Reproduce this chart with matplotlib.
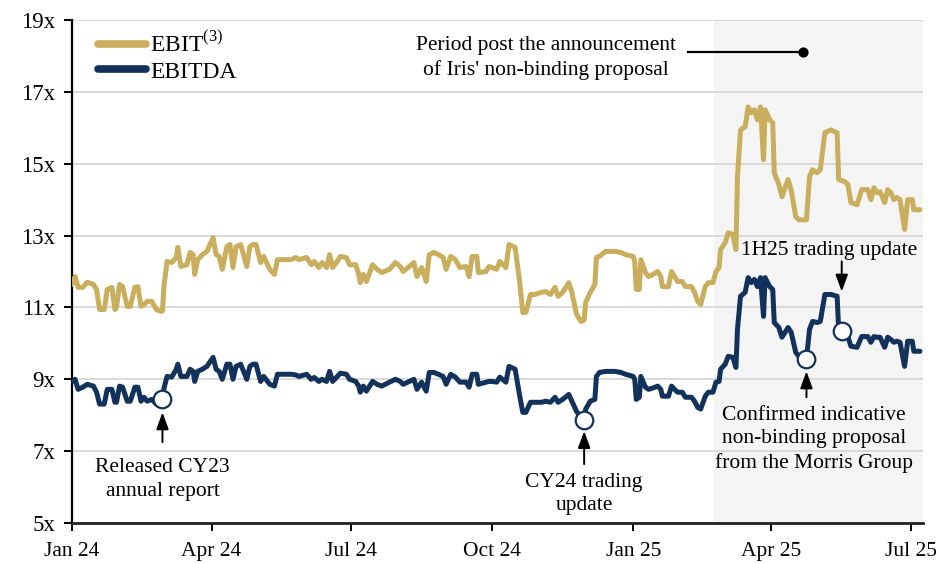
import matplotlib
matplotlib.use("Agg")
import matplotlib.pyplot as plt
import pandas as pd

plt.rcParams['font.family'] = ['Liberation Serif', 'DejaVu Serif']
plt.rcParams['mathtext.fontset'] = 'custom'
plt.rcParams['mathtext.rm'] = 'Liberation Serif'

# ---------------- data ----------------
dates = [
    "2024-01-01", "2024-01-03", "2024-01-05", "2024-01-08", "2024-01-11", "2024-01-15", "2024-01-17", "2024-01-19",
    "2024-01-22", "2024-01-24", "2024-01-27", "2024-01-29", "2024-01-30", "2024-02-01", "2024-02-03", "2024-02-06",
    "2024-02-08", "2024-02-11", "2024-02-13", "2024-02-15", "2024-02-17", "2024-02-19", "2024-02-22", "2024-02-25",
    "2024-02-28", "2024-02-29", "2024-03-01", "2024-03-03", "2024-03-06", "2024-03-09", "2024-03-10", "2024-03-12",
    "2024-03-16", "2024-03-18", "2024-03-20", "2024-03-21", "2024-03-23", "2024-03-26", "2024-03-29", "2024-04-02",
    "2024-04-04", "2024-04-06", "2024-04-08", "2024-04-11", "2024-04-13", "2024-04-15", "2024-04-17", "2024-04-20",
    "2024-04-24", "2024-04-26", "2024-04-28", "2024-04-30", "2024-05-03", "2024-05-05", "2024-05-09", "2024-05-12",
    "2024-05-14", "2024-05-17", "2024-05-23", "2024-05-26", "2024-05-28", "2024-06-02", "2024-06-05", "2024-06-07",
    "2024-06-10", "2024-06-12", "2024-06-15", "2024-06-17", "2024-06-19", "2024-06-22", "2024-06-24", "2024-06-28",
    "2024-06-30", "2024-07-04", "2024-07-06", "2024-07-07", "2024-07-09", "2024-07-11", "2024-07-15", "2024-07-18",
    "2024-07-21", "2024-07-26", "2024-07-30", "2024-08-02", "2024-08-04", "2024-08-08", "2024-08-11", "2024-08-13",
    "2024-08-16", "2024-08-19", "2024-08-21", "2024-08-24", "2024-08-27", "2024-08-30", "2024-09-01", "2024-09-04",
    "2024-09-07", "2024-09-10", "2024-09-14", "2024-09-16", "2024-09-18", "2024-09-21", "2024-09-22", "2024-09-27",
    "2024-09-29", "2024-10-01", "2024-10-04", "2024-10-06", "2024-10-10", "2024-10-12", "2024-10-16", "2024-10-19",
    "2024-10-21", "2024-10-23", "2024-10-26", "2024-10-29", "2024-11-02", "2024-11-05", "2024-11-08", "2024-11-11",
    "2024-11-13", "2024-11-16", "2024-11-20", "2024-11-22", "2024-11-25", "2024-11-28", "2024-11-30", "2024-12-01",
    "2024-12-04", "2024-12-07", "2024-12-08", "2024-12-10", "2024-12-14", "2024-12-20", "2024-12-24", "2024-12-27",
    "2025-01-01", "2025-01-02", "2025-01-03", "2025-01-05", "2025-01-06", "2025-01-09", "2025-01-11", "2025-01-14",
    "2025-01-17", "2025-01-19", "2025-01-20", "2025-01-24", "2025-01-26", "2025-01-28", "2025-01-30", "2025-02-02",
    "2025-02-04", "2025-02-08", "2025-02-10", "2025-02-12", "2025-02-14", "2025-02-17", "2025-02-19", "2025-02-22",
    "2025-02-24", "2025-02-26", "2025-02-27", "2025-03-02", "2025-03-04", "2025-03-07", "2025-03-09", "2025-03-10",
    "2025-03-12", "2025-03-15", "2025-03-17", "2025-03-19", "2025-03-21", "2025-03-23", "2025-03-25", "2025-03-27",
    "2025-03-28", "2025-03-31", "2025-04-02", "2025-04-03", "2025-04-06", "2025-04-08", "2025-04-12", "2025-04-14",
    "2025-04-17", "2025-04-19", "2025-04-24", "2025-04-26", "2025-04-28", "2025-05-01", "2025-05-03", "2025-05-06",
    "2025-05-10", "2025-05-14", "2025-05-15", "2025-05-19", "2025-05-21", "2025-05-23", "2025-05-27", "2025-05-30",
    "2025-06-03", "2025-06-05", "2025-06-07", "2025-06-09", "2025-06-11", "2025-06-14", "2025-06-16", "2025-06-18",
    "2025-06-20", "2025-06-22", "2025-06-24", "2025-06-27", "2025-06-29", "2025-07-02", "2025-07-03", "2025-07-07",
]

ebit = [
    11.64, 11.86, 11.56, 11.56, 11.70, 11.64, 11.50, 10.94,
    10.94, 11.50, 11.56, 10.94, 11.00, 11.64, 11.58, 11.03,
    11.03, 11.56, 11.58, 11.03, 11.08, 11.17, 11.17, 10.94,
    10.89, 10.90, 11.60, 12.28, 12.25, 12.39, 12.67, 12.14,
    12.19, 12.53, 12.47, 11.92, 12.33, 12.47, 12.56, 12.94,
    12.47, 12.42, 12.06, 12.69, 12.75, 12.11, 12.69, 12.75,
    12.14, 12.69, 12.75, 12.75, 12.25, 12.42, 12.06, 11.92,
    12.33, 12.33, 12.33, 12.39, 12.33, 12.39, 12.19, 12.28,
    12.11, 12.25, 12.11, 12.47, 12.11, 12.28, 12.42, 12.39,
    12.19, 12.19, 11.92, 11.69, 11.92, 11.72, 12.19, 12.06,
    11.97, 12.06, 12.25, 12.14, 12.00, 12.14, 12.25, 11.86,
    12.11, 11.72, 12.47, 12.53, 12.47, 12.39, 12.06, 12.42,
    12.33, 12.11, 12.14, 11.86, 12.42, 12.42, 11.97, 12.00,
    12.14, 12.11, 12.06, 12.28, 12.11, 12.75, 12.67, 11.69,
    10.86, 10.86, 11.36, 11.36, 11.42, 11.44, 11.36, 11.56,
    11.31, 11.42, 11.69, 11.42, 10.81, 10.61, 10.65, 11.14,
    11.42, 11.64, 12.39, 12.42, 12.56, 12.56, 12.53, 12.47,
    12.42, 12.28, 11.50, 11.50, 12.33, 11.97, 11.86, 11.92,
    12.00, 11.86, 11.58, 11.58, 12.00, 11.86, 11.72, 11.72,
    11.58, 11.58, 11.42, 11.17, 11.08, 11.58, 11.69, 11.69,
    12.00, 12.11, 12.61, 12.80, 13.08, 13.03, 12.61, 14.64,
    15.94, 16.03, 16.58, 16.42, 16.50, 16.22, 16.58, 15.11,
    16.50, 16.22, 16.14, 14.75, 14.42, 14.08, 14.56, 14.28,
    13.53, 13.44, 13.44, 14.64, 14.83, 14.75, 14.83, 15.86,
    15.94, 15.86, 14.56, 14.50, 14.42, 13.92, 13.86, 14.28,
    14.28, 14.00, 14.33, 14.19, 14.22, 13.92, 14.28, 14.19,
    14.00, 14.06, 14.00, 13.17, 14.00, 14.00, 13.72, 13.72,
]

ebitda = [
    8.92, 9.00, 8.72, 8.78, 8.86, 8.81, 8.64, 8.31,
    8.31, 8.72, 8.72, 8.36, 8.36, 8.81, 8.78, 8.39,
    8.39, 8.78, 8.78, 8.39, 8.50, 8.39, 8.44, 8.31,
    8.31, 8.42, 8.75, 9.08, 9.06, 9.28, 9.42, 9.08,
    9.08, 9.28, 9.22, 8.94, 9.22, 9.28, 9.36, 9.61,
    9.28, 9.22, 9.00, 9.42, 9.42, 9.00, 9.36, 9.42,
    9.00, 9.36, 9.42, 9.42, 8.94, 9.08, 8.86, 8.81,
    9.14, 9.14, 9.14, 9.12, 9.08, 9.14, 9.00, 9.05,
    8.94, 9.00, 8.94, 9.22, 8.94, 9.08, 9.17, 9.14,
    9.00, 8.94, 8.81, 8.64, 8.81, 8.67, 8.94, 8.86,
    8.81, 8.92, 9.00, 8.94, 8.86, 8.94, 9.00, 8.72,
    8.92, 8.67, 9.19, 9.19, 9.14, 9.08, 8.86, 9.14,
    9.06, 8.92, 8.92, 8.78, 9.14, 9.14, 8.86, 8.92,
    8.94, 8.94, 8.92, 9.06, 8.92, 9.36, 9.28, 8.53,
    8.08, 8.08, 8.36, 8.36, 8.36, 8.39, 8.36, 8.50,
    8.36, 8.44, 8.58, 8.39, 8.11, 7.94, 7.88, 8.17,
    8.39, 8.44, 9.08, 9.19, 9.22, 9.22, 9.19, 9.14,
    9.08, 9.00, 8.44, 8.50, 9.08, 8.78, 8.72, 8.76,
    8.81, 8.72, 8.53, 8.53, 8.81, 8.72, 8.64, 8.64,
    8.50, 8.50, 8.39, 8.22, 8.17, 8.53, 8.64, 8.64,
    8.92, 8.94, 9.28, 9.42, 9.64, 9.61, 9.33, 10.39,
    11.31, 11.42, 11.83, 11.69, 11.78, 11.58, 11.83, 10.75,
    11.83, 11.58, 11.50, 10.58, 10.44, 10.17, 10.44, 10.31,
    9.75, 9.64, 9.56, 10.39, 10.61, 10.58, 10.61, 11.36,
    11.36, 11.31, 10.39, 10.31, 10.19, 9.92, 9.89, 10.19,
    10.19, 10.03, 10.19, 10.17, 10.17, 9.89, 10.17, 10.11,
    10.03, 10.06, 10.03, 9.36, 10.06, 10.06, 9.78, 9.78,
]

series_labels = [r"EBIT$^{\mathrm{(3)}}$", "EBITDA"]
series_colors = ["#C9AE5D", "#13325B"]

# events marked with circles on EBITDA
event_dates = ["2024-02-29", "2024-11-30", "2025-04-24", "2025-05-17"]
event_values = [8.45, 7.88, 9.56, 10.35]
event_labels = ["Released CY23\nannual report", "CY24 trading\nupdate",
                "Confirmed indicative\nnon-binding proposal\nfrom the Morris Group",
                "1H25 trading update"]

period_start = "2025-02-23"
period_label = "Period post the announcement\nof Iris' non-binding proposal"

yticks = [5, 7, 9, 11, 13, 15, 17, 19]
ytick_labels = ["5x", "7x", "9x", "11x", "13x", "15x", "17x", "19x"]
xticks = ["2024-01-01", "2024-04-01", "2024-07-01", "2024-10-01", "2025-01-01", "2025-04-01", "2025-07-01"]
xtick_labels = ["Jan 24", "Apr 24", "Jul 24", "Oct 24", "Jan 25", "Apr 25", "Jul 25"]

# ---------------- plot ----------------
d = pd.to_datetime(dates)
ed = pd.to_datetime(event_dates)
T = pd.Timestamp

fig = plt.figure(figsize=(9.36, 5.63), dpi=100)
ax = fig.add_axes([72 / 936, 1 - 523 / 563, (923 - 72) / 936, (523 - 20) / 563])

x0, x1 = T("2024-01-01"), T("2025-07-09")
ax.set_xlim(x0, x1)
ax.set_ylim(5, 19)

ax.axvspan(T(period_start), x1, color="#F4F4F4", zorder=0, lw=0)

for yv in yticks:
    ax.axhline(yv, color="#D9D9D9", lw=1.4, zorder=1)

ax.plot(d, ebit, color=series_colors[0], lw=3.6, label=series_labels[0], zorder=3,
        solid_joinstyle="round", solid_capstyle="round")
ax.plot(d, ebitda, color=series_colors[1], lw=3.6, label=series_labels[1], zorder=3,
        solid_joinstyle="round", solid_capstyle="round")

ax.scatter(ed, event_values, s=160, facecolor="white", edgecolor=series_colors[1],
           linewidth=1.6, zorder=5)

arrow = dict(arrowstyle="-|>,head_length=0.6,head_width=0.22", color="black", lw=1.4,
             mutation_scale=17, shrinkA=0, shrinkB=0)
fs_ann = 15.5
ls = 1.32

# Released CY23
ax.annotate("", xy=(ed[0], 8.08), xytext=(ed[0], 7.25), arrowprops=arrow, zorder=6)
ax.text(ed[0], 6.80, event_labels[0], ha="center", va="top", fontsize=fs_ann, linespacing=ls)
# CY24 trading update
ax.annotate("", xy=(ed[1], 7.56), xytext=(ed[1], 6.64), arrowprops=arrow, zorder=6)
ax.text(ed[1], 6.40, event_labels[1], ha="center", va="top", fontsize=fs_ann, linespacing=ls)
# Confirmed indicative
ax.annotate("", xy=(ed[2], 9.22), xytext=(ed[2], 8.5), arrowprops=arrow, zorder=6)
ax.text(T("2025-04-29"), 8.27, event_labels[2], ha="center", va="top", fontsize=fs_ann, linespacing=ls)
# 1H25 trading update
ax.annotate("", xy=(ed[3], 11.44), xytext=(ed[3], 12.28), arrowprops=arrow, zorder=6)
ax.text(T("2025-05-09"), 12.33, event_labels[3], ha="center", va="bottom", fontsize=fs_ann)

# Period label
ax.text(T("2024-11-05"), 17.94, period_label, ha="center", va="center", fontsize=fs_ann, linespacing=ls)
ax.plot([T("2025-02-06"), T("2025-04-22")], [18.11, 18.11], color="black", lw=1.6, zorder=6)
ax.scatter([T("2025-04-22")], [18.11], s=40, color="black", zorder=6)

# axes styling
for s in ["top", "right"]:
    ax.spines[s].set_visible(False)
ax.spines["left"].set_linewidth(1.6)
ax.spines["bottom"].set_linewidth(2.0)
ax.spines["left"].set_color("black")
ax.spines["bottom"].set_color("#222222")

ax.set_yticks(yticks)
ax.set_yticklabels(ytick_labels)
ax.set_xticks(pd.to_datetime(xticks))
ax.set_xticklabels(xtick_labels)
ax.tick_params(axis="both", direction="out", length=6, width=1.4, colors="black")
ax.tick_params(axis="y", labelsize=16.5, pad=6)
ax.tick_params(axis="x", labelsize=15.5, pad=8)

leg = ax.legend(loc="upper left", bbox_to_anchor=(0.014, 1.006), frameon=False, fontsize=17,
                handlelength=2.05, handletextpad=0.15, labelspacing=0.18, borderaxespad=0.2)
for line in leg.get_lines():
    line.set_linewidth(5.5)
    line.set_solid_capstyle("round")

fig.savefig("out.png", dpi=100)
